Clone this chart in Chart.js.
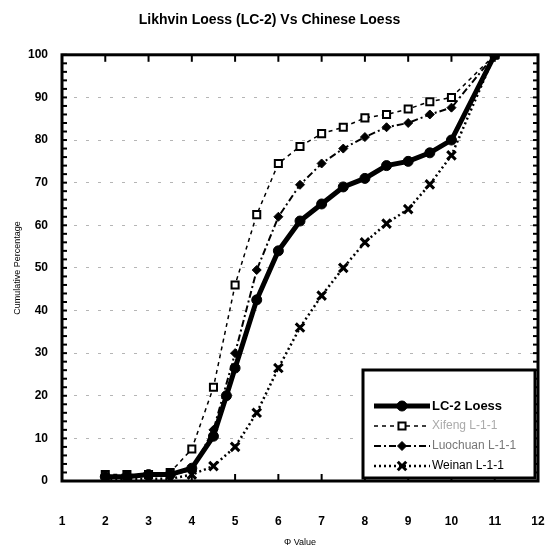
<!DOCTYPE html>
<html><head><meta charset="utf-8">
<script src="https://cdn.jsdelivr.net/npm/chart.js@4/dist/chart.umd.min.js"></script>
<style>html,body{margin:0;padding:0;background:#fff;}</style>
</head><body>
<canvas id="c" width="547" height="548"></canvas>
<script>
// ---- data ----
const seriesNames = ["LC-2 Loess", "Xifeng L-1-1", "Luochuan L-1-1", "Weinan L-1-1"];
const phiLC = [2, 2.5, 3, 3.5, 4, 4.5, 4.8, 5, 5.5, 6, 6.5, 7, 7.5, 8, 8.5, 9, 9.5, 10, 11];
const pctLC = [1, 1, 1.5, 1.5, 3, 10.5, 20, 26.5, 42.5, 54, 61, 65, 69, 71, 74, 75, 77, 80, 100];
const phiChina = [2, 2.5, 3, 3.5, 4, 4.5, 5, 5.5, 6, 6.5, 7, 7.5, 8, 8.5, 9, 9.5, 10, 11];
const pctSquare = [1.5, 1.5, 1.5, 2, 7.5, 22, 46, 62.5, 74.5, 78.5, 81.5, 83, 85.2, 86, 87.3, 89, 90, 100];
const pctDiamond = [1, 1, 1.5, 1.5, 2.5, 12, 30, 49.5, 62, 69.5, 74.5, 78, 80.7, 83, 84, 86, 87.6, 100];
const pctWeinan = [0.5, 0.5, 0.5, 0.5, 1.5, 3.5, 8, 16, 26.5, 36, 43.5, 50, 56, 60.4, 63.8, 69.6, 76.4, 100];
const xTicks = [1, 2, 3, 4, 5, 6, 7, 8, 9, 10, 11, 12];
const yTicks = [0, 10, 20, 30, 40, 50, 60, 70, 80, 90, 100];

const pts = (xs, ys) => xs.map((x, i) => ({x: x, y: ys[i]}));
const FONT = "'Liberation Sans', Arial, sans-serif";

const datasets = [
  {label: seriesNames[0], data: pts(phiLC, pctLC), borderColor: '#000', backgroundColor: '#000',
   borderWidth: 5, pointStyle: 'circle', pointRadius: 5, pointBackgroundColor: '#000', pointBorderWidth: 1, borderDash: []},
  {label: seriesNames[1], data: pts(phiChina, pctSquare), borderColor: '#000', backgroundColor: '#fff',
   borderWidth: 1.5, pointStyle: 'rect', pointRadius: 5, pointBackgroundColor: '#fff', pointBorderWidth: 2, borderDash: [4, 4]},
  {label: seriesNames[2], data: pts(phiChina, pctDiamond), borderColor: '#000', backgroundColor: '#000',
   borderWidth: 2, pointStyle: 'rectRot', pointRadius: 4.5, pointBackgroundColor: '#000', pointBorderWidth: 1, borderDash: [7, 3, 2, 3]},
  {label: seriesNames[3], data: pts(phiChina, pctWeinan), borderColor: '#000', backgroundColor: '#000',
   borderWidth: 2.5, pointStyle: 'crossRot', pointRadius: 6, pointBorderWidth: 3, borderDash: [2, 3]}
];
datasets.forEach(d => { d.tension = 0; d.fill = false; d.pointBorderColor = '#000'; d.pointHoverRadius = d.pointRadius; });

const frame = {
  id: 'frame',
  afterDatasetsDraw(chart) {
    const {ctx, chartArea: a, scales: {x, y}} = chart;
    ctx.save();
    ctx.strokeStyle = '#000';
    ctx.setLineDash([]);
    ctx.lineWidth = 2;
    xTicks.forEach(v => {
      const px = x.getPixelForValue(v);
      ctx.beginPath(); ctx.moveTo(px, a.bottom); ctx.lineTo(px, a.bottom - 7); ctx.stroke();
      ctx.beginPath(); ctx.moveTo(px, a.top); ctx.lineTo(px, a.top + 7); ctx.stroke();
    });
    for (let v = 0; v <= 100; v += 2) {
      const py = y.getPixelForValue(v);
      ctx.beginPath(); ctx.moveTo(a.left, py); ctx.lineTo(a.left + 5, py); ctx.stroke();
      ctx.beginPath(); ctx.moveTo(a.right, py); ctx.lineTo(a.right - 5, py); ctx.stroke();
    }
    ctx.lineWidth = 3;
    ctx.strokeRect(a.left, a.top, a.right - a.left, a.bottom - a.top);

    const bx = 363, by = 370, bw = 172, bh = 108;
    ctx.fillStyle = '#fff';
    ctx.fillRect(bx, by, bw, bh);
    ctx.lineWidth = 3;
    ctx.strokeRect(bx, by, bw, bh);
    const rows = [406, 426, 446, 466];
    const textColors = ['#000', '#aaa', '#777', '#000'];
    chart.data.datasets.forEach((d, i) => {
      const yy = rows[i];
      ctx.save();
      ctx.strokeStyle = '#000';
      ctx.lineWidth = d.borderWidth;
      ctx.setLineDash(d.borderDash);
      ctx.beginPath(); ctx.moveTo(374, yy); ctx.lineTo(430, yy); ctx.stroke();
      ctx.setLineDash([]);
      ctx.fillStyle = d.pointBackgroundColor || '#000';
      ctx.strokeStyle = '#000';
      ctx.lineWidth = d.pointBorderWidth;
      Chart.helpers.drawPoint(ctx, {pointStyle: d.pointStyle, radius: d.pointRadius, borderWidth: d.pointBorderWidth, rotation: 0}, 402, yy);
      ctx.restore();
      ctx.fillStyle = textColors[i];
      ctx.font = (i === 0 ? 'bold 13px ' : '12px ') + FONT;
      ctx.textBaseline = 'middle';
      ctx.textAlign = 'left';
      ctx.fillText(d.label, 432, yy);
    });
    ctx.restore();
  }
};

new Chart(document.getElementById('c'), {
  type: 'line',
  data: {datasets: datasets},
  options: {
    responsive: false,
    animation: false,
    devicePixelRatio: 1,
    layout: {padding: {left: 0, right: 8, top: 0, bottom: 0}},
    plugins: {
      legend: {display: false},
      tooltip: {enabled: false},
      title: {display: true, text: 'Likhvin Loess (LC-2) Vs Chinese Loess', color: '#000',
        font: {family: FONT, size: 14, weight: 'bold'}, padding: {top: 12, bottom: 26}}
    },
    scales: {
      x: {
        type: 'linear', min: 1, max: 12,
        afterBuildTicks: s => { s.ticks = xTicks.map(v => ({value: v})); },
        afterFit: s => { s.height = 67; s.paddingLeft = 0; s.paddingRight = 0; },
        grid: {display: false, drawTicks: false},
        border: {display: false},
        ticks: {color: '#000', font: {family: FONT, size: 12, weight: 'bold'}, padding: 33, maxRotation: 0, autoSkip: false},
        title: {display: true, text: 'Φ Value', color: '#000', font: {family: FONT, size: 9}, padding: {top: 4, bottom: 0}}
      },
      y: {
        type: 'linear', min: 0, max: 100,
        afterBuildTicks: s => { s.ticks = yTicks.map(v => ({value: v})); },
        afterFit: s => { s.width = 62; s.paddingTop = 0; s.paddingBottom = 0; },
        grid: {color: c => (c.tick && (c.tick.value === 0 || c.tick.value === 100)) ? 'rgba(0,0,0,0)' : '#b5b5b5',
               lineWidth: 1, drawTicks: false},
        border: {display: false, dash: [3, 9]},
        ticks: {color: '#000', font: {family: FONT, size: 12, weight: 'bold'}, padding: 14},
        title: {display: true, text: 'Cumulative Percentage', color: '#000', font: {family: FONT, size: 9}, padding: {top: 12, bottom: 0}}
      }
    }
  },
  plugins: [frame]
});
</script>
</body></html>
